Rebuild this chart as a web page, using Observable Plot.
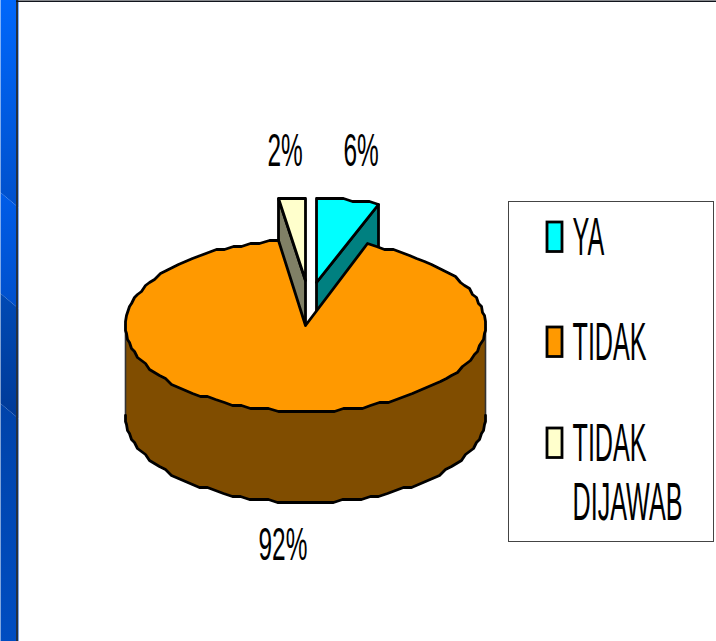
<!DOCTYPE html>
<html>
<head>
<meta charset="utf-8">
<script src="https://cdn.jsdelivr.net/npm/d3@7"></script>
<script src="https://cdn.jsdelivr.net/npm/@observablehq/plot@0.6"></script>
<style>html,body{margin:0;padding:0;background:#fff;overflow:hidden}svg{display:block}</style>
</head>
<body>
<div id="chart"></div>
<script>
// Data
const categories = ["YA", "TIDAK", "TIDAK DIJAWAB"];
const shares = [5.6, 92.0, 2.4];
const shareLabels = ["6%", "92%", "2%"];
const topColors = ["#00FFFF", "#FF9900", "#FFFFCC"];
const sideColors = ["#008080", "#804D00", "#808066"];

// Pie layout
const W = 716, H = 641;
const cx = 305, cy = 325, rx = 180, ry = 86, depth = 91;
const explode = [[11, -43, 84], [0, 0, 86], [0, -45, 82]];
const snapY = 3;
const sn = v => Math.round(v / snapY) * snapY;
const arcs = d3.pie().sort(null).value(d => d)(shares);
const pt = (a, dx = 0, dy = 0, r = ry) => [cx + dx + rx * Math.sin(a), cy + dy - r * Math.cos(a)];
const arcPts = (a0, a1, dx = 0, dy = 0, r = ry) => {
  const n = Math.max(1, Math.round((a1 - a0) / (3 * Math.PI / 180)));
  return d3.range(n + 1).map(i => {
    const [x, y] = pt(a0 + (a1 - a0) * i / n, dx, dy, r);
    return [Math.round(x), sn(y)];
  });
};
const close = p => [...p, p[0]];
const XY = {x: d => d[0], y: d => d[1], curve: "linear", strokeLinejoin: "round"};
const poly = (p, fill, sw = 2.8) => Plot.line(close(p), {...XY, fill, stroke: "#000", strokeWidth: sw});

const wedgeMarks = i => {
  const {startAngle: a0, endAngle: a1} = arcs[i];
  const [dx, dy, r] = explode[i];
  const tip = [cx + dx, cy + dy];
  const pts = arcPts(a0, a1, dx, dy, r);
  const edge = i === 0 ? pts[pts.length - 1] : pts[0];
  const side = [tip, edge, [edge[0], edge[1] + depth], [tip[0], tip[1] + depth]];
  return [poly(side, sideColors[i]), poly([tip, ...pts], topColors[i])];
};
const {startAngle: m0, endAngle: m1} = arcs[1];
const front = arcPts(Math.PI / 2, 3 * Math.PI / 2);
const frontLow = front.map(([x, y]) => [x, y + depth]);
// The upper rim of the side runs under the orange top, so no gap shows between them
const mainSide = [...front.map(([x, y]) => [x, y - 4]), ...[...frontLow].reverse()];
const sideEdges = [0, front.length - 1].map(i => [front[i], frontLow[i]]);

// Background strip bands
const stripX = 18;
const bands = [
  {id: "b0", y0: -16, y1: 192, c0: "#0069FF", c1: "#0050CC"},
  {id: "b1", y0: 192, y1: 293, c0: "#005CE8", c1: "#0050CC"},
  {id: "b2", y0: 293, y1: 403, c0: "#0049B4", c1: "#003A98"},
  {id: "b3", y0: 403, y1: 656, c0: "#0043AA", c1: "#004EC4"}
];
const slant = 15;
const defs = () => {
  const s = d3.create("svg:defs");
  for (const b of bands) {
    const g = s.append("linearGradient").attr("id", b.id).attr("x1", 0).attr("x2", 0).attr("y1", 0).attr("y2", 1);
    g.append("stop").attr("offset", 0).attr("stop-color", b.c0);
    g.append("stop").attr("offset", 1).attr("stop-color", b.c1);
  }
  return s.node();
};
const bandMarks = bands.map(b => Plot.line(
  close([[0, b.y0], [stripX, b.y0 + slant], [stripX, b.y1 + slant], [0, b.y1]]),
  {x: d => d[0], y: d => d[1], fill: `url(#${b.id})`, stroke: "none"}));

// Legend
const legendBox = {x1: 508.5, x2: 713.5, y1: 201.5, y2: 541.5};
const swatchX = [547, 562];
const swatchTop = [222, 327, 428];
const swatchH = 29.5;
const legendLines = [
  {t: "YA", y: 253}, {t: "TIDAK", y: 358}, {t: "TIDAK", y: 459}, {t: "DIJAWAB", y: 518}
];
const pctPos = [[343, 166], [258, 560], [267, 166]];

const plot = Plot.plot({
  width: W, height: H,
  margin: 0, marginTop: 0, marginRight: 0, marginBottom: 0, marginLeft: 0,
  style: {background: "#fff", overflow: "hidden"},
  x: {domain: [0, W], range: [0, W], axis: null},
  y: {domain: [0, H], range: [0, H], axis: null},
  marks: [
    defs,
    ...bandMarks,
    Plot.rect([0], {x1: stripX - 2, x2: stripX, y1: 0, y2: H, fill: "#26303e"}),
    Plot.rect([0], {x1: stripX - 2, x2: W, y1: 0.5, y2: 2, fill: "#10141c"}),
    ...wedgeMarks(0),
    ...wedgeMarks(2),
    Plot.line(mainSide, {...XY, fill: sideColors[1], stroke: "none"}),
    ...sideEdges.map(e => Plot.line(e, {...XY, stroke: "#333", strokeWidth: 1.6})),
    Plot.line(frontLow, {...XY, stroke: "#000", strokeWidth: 2.8}),
    poly([[cx, cy], ...arcPts(m0, m1)], topColors[1]),
    Plot.rect([legendBox], {x1: "x1", x2: "x2", y1: "y1", y2: "y2", fill: "none", stroke: "#444", strokeWidth: 1}),
    Plot.rect(swatchTop, {x1: swatchX[0], x2: swatchX[1], y1: d => d, y2: d => d + swatchH, fill: (d, i) => topColors[i], stroke: "#000", strokeWidth: 2.8}),
    Plot.text(legendLines, {x: 572, y: "y", text: "t", textAnchor: "start", lineAnchor: "bottom", dy: 1, fontSize: 53, fontFamily: "Liberation Sans", fill: "#000", className: "legend-t"}),
    Plot.text(shareLabels, {x: (d, i) => pctPos[i][0], y: (d, i) => pctPos[i][1], text: d => d, textAnchor: "start", lineAnchor: "bottom", dy: -1, fontSize: 47, fontFamily: "Liberation Sans", fill: "#000", className: "pct-t"})
  ]
});
document.getElementById("chart").append(plot);

// Horizontally condense the text like the narrow lettering of the reference
const squeeze = (sel, f) => d3.select(plot).selectAll(sel).each(function () {
  const len = this.getComputedTextLength();
  d3.select(this).attr("textLength", len * f).attr("lengthAdjust", "spacingAndGlyphs");
});
squeeze(".legend-t text", 0.475);
squeeze(".pct-t text", 0.52);
</script>
</body>
</html>
